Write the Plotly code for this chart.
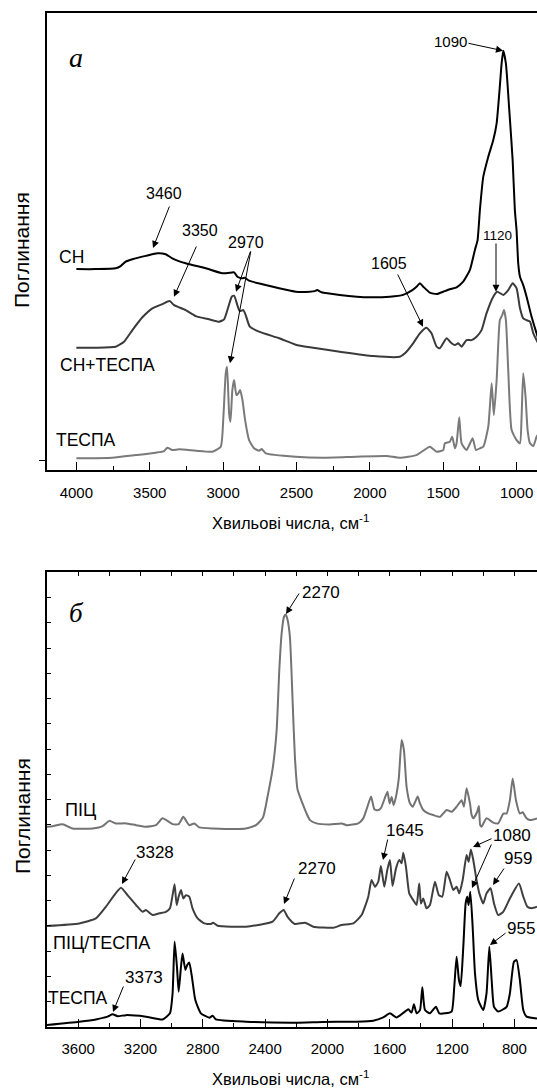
import plotly.graph_objects as go

W, H = 537, 1092

# ---------------- Panel a (top) ----------------
wn_sn = [4000, 3868, 3732, 3698, 3664, 3618, 3527, 3448, 3391, 3346, 3255, 3118, 3005, 2948, 2925, 2903, 2868, 2852, 2823, 2732, 2618, 2505, 2409, 2375, 2359, 2330, 2205, 2000, 1864, 1773, 1716, 1682, 1659, 1636, 1591, 1545, 1500, 1455, 1409, 1364, 1318, 1284, 1266, 1250, 1227, 1193, 1159, 1136, 1118, 1102, 1091, 1073, 1050, 1027, 1012, 1000, 989, 977, 955, 932, 898, 864, 855]
a_sn = [0.958, 0.958, 0.962, 0.973, 0.995, 1.007, 1.024, 1.037, 1.032, 1.012, 0.987, 0.962, 0.937, 0.940, 0.942, 0.920, 0.912, 0.915, 0.900, 0.882, 0.862, 0.845, 0.845, 0.848, 0.853, 0.842, 0.829, 0.817, 0.820, 0.829, 0.850, 0.870, 0.887, 0.870, 0.840, 0.833, 0.845, 0.857, 0.867, 0.895, 0.954, 1.054, 1.103, 1.254, 1.420, 1.520, 1.603, 1.687, 1.837, 1.987, 2.050, 1.987, 1.754, 1.504, 1.254, 1.150, 0.987, 0.920, 0.878, 0.820, 0.720, 0.637, 0.615]

wn_sn_tespa = [4000, 3868, 3732, 3675, 3618, 3550, 3482, 3414, 3364, 3334, 3300, 3255, 3186, 3096, 3027, 2993, 2964, 2941, 2925, 2903, 2887, 2862, 2846, 2818, 2755, 2618, 2505, 2409, 2205, 1977, 1796, 1761, 1705, 1659, 1614, 1580, 1545, 1523, 1477, 1443, 1420, 1398, 1375, 1341, 1307, 1273, 1239, 1205, 1159, 1132, 1091, 1057, 1027, 1000, 977, 955, 932, 909, 886, 864, 855]
a_sn_tespa = [0.565, 0.565, 0.570, 0.595, 0.653, 0.717, 0.762, 0.783, 0.798, 0.778, 0.767, 0.753, 0.723, 0.707, 0.695, 0.707, 0.770, 0.820, 0.825, 0.778, 0.748, 0.753, 0.728, 0.670, 0.645, 0.612, 0.580, 0.567, 0.545, 0.523, 0.520, 0.537, 0.587, 0.637, 0.665, 0.637, 0.570, 0.562, 0.612, 0.587, 0.578, 0.587, 0.570, 0.603, 0.603, 0.620, 0.653, 0.737, 0.820, 0.845, 0.829, 0.853, 0.887, 0.862, 0.762, 0.712, 0.703, 0.695, 0.637, 0.603, 0.590]

wn_tespa_a = [4000, 3755, 3596, 3459, 3402, 3380, 3346, 3300, 3186, 3073, 3016, 2998, 2982, 2973, 2959, 2950, 2937, 2925, 2909, 2896, 2884, 2868, 2850, 2823, 2789, 2755, 2737, 2709, 2505, 2318, 2091, 1886, 1796, 1682, 1591, 1545, 1500, 1489, 1455, 1439, 1420, 1409, 1391, 1375, 1341, 1300, 1277, 1250, 1227, 1193, 1170, 1155, 1136, 1114, 1098, 1086, 1073, 1057, 1034, 1000, 977, 966, 955, 939, 925, 909, 886, 864, 855]
a_tespa_a = [0.012, 0.015, 0.028, 0.040, 0.048, 0.065, 0.053, 0.057, 0.050, 0.045, 0.070, 0.220, 0.437, 0.470, 0.237, 0.195, 0.353, 0.403, 0.328, 0.337, 0.353, 0.303, 0.203, 0.103, 0.062, 0.050, 0.058, 0.037, 0.020, 0.015, 0.020, 0.023, 0.015, 0.028, 0.070, 0.045, 0.053, 0.087, 0.095, 0.120, 0.062, 0.087, 0.217, 0.087, 0.053, 0.112, 0.053, 0.062, 0.070, 0.170, 0.387, 0.228, 0.403, 0.703, 0.728, 0.753, 0.703, 0.453, 0.153, 0.103, 0.087, 0.220, 0.437, 0.320, 0.153, 0.087, 0.073, 0.120, 0.130]

# ---------------- Panel б (bottom) ----------------
wn_pic = [3800, 3764, 3700, 3636, 3507, 3443, 3400, 3358, 3293, 3229, 3165, 3101, 3058, 2994, 2955, 2925, 2887, 2855, 2823, 2737, 2523, 2459, 2414, 2382, 2350, 2326, 2309, 2294, 2279, 2268, 2258, 2241, 2223, 2209, 2192, 2160, 2134, 2112, 2070, 1984, 1909, 1877, 1802, 1770, 1747, 1720, 1699, 1677, 1657, 1615, 1601, 1588, 1575, 1558, 1542, 1524, 1509, 1492, 1470, 1453, 1432, 1421, 1406, 1385, 1353, 1321, 1278, 1235, 1203, 1171, 1139, 1124, 1107, 1085, 1075, 1064, 1040, 1028, 1020, 1011, 979, 936, 904, 871, 850, 829, 811, 790, 765, 747, 722, 700, 655]
a_pic = [0.793, 0.795, 0.803, 0.786, 0.786, 0.795, 0.816, 0.806, 0.806, 0.799, 0.793, 0.799, 0.826, 0.803, 0.803, 0.832, 0.799, 0.806, 0.790, 0.786, 0.786, 0.799, 0.829, 0.920, 1.030, 1.175, 1.413, 1.558, 1.624, 1.633, 1.617, 1.545, 1.281, 1.070, 0.940, 0.885, 0.845, 0.819, 0.806, 0.802, 0.806, 0.799, 0.806, 0.826, 0.865, 0.912, 0.862, 0.858, 0.866, 0.931, 0.885, 0.910, 0.878, 0.918, 0.984, 1.136, 1.096, 0.951, 0.885, 0.872, 0.898, 0.912, 0.885, 0.859, 0.846, 0.839, 0.832, 0.859, 0.852, 0.872, 0.898, 0.872, 0.945, 0.885, 0.840, 0.826, 0.850, 0.875, 0.800, 0.793, 0.826, 0.809, 0.806, 0.845, 0.845, 0.898, 0.984, 0.898, 0.845, 0.850, 0.826, 0.819, 0.826]

wn_pic_tespa = [3800, 3593, 3486, 3422, 3368, 3325, 3283, 3229, 3186, 3165, 3122, 3079, 3037, 3011, 2994, 2981, 2968, 2955, 2940, 2925, 2908, 2887, 2866, 2833, 2791, 2748, 2733, 2705, 2523, 2352, 2309, 2281, 2256, 2210, 2144, 2091, 1963, 1909, 1834, 1781, 1738, 1717, 1695, 1674, 1657, 1635, 1616, 1599, 1582, 1560, 1539, 1524, 1513, 1496, 1475, 1449, 1428, 1411, 1400, 1385, 1364, 1342, 1310, 1285, 1263, 1235, 1214, 1192, 1171, 1154, 1132, 1107, 1094, 1079, 1064, 1043, 1025, 1000, 979, 953, 931, 904, 872, 829, 771, 743, 717, 690, 655]
a_pic_tespa = [0.400, 0.410, 0.430, 0.476, 0.522, 0.551, 0.522, 0.483, 0.456, 0.463, 0.443, 0.450, 0.456, 0.470, 0.522, 0.565, 0.483, 0.516, 0.542, 0.509, 0.522, 0.516, 0.470, 0.430, 0.410, 0.408, 0.413, 0.401, 0.397, 0.417, 0.450, 0.463, 0.436, 0.408, 0.413, 0.397, 0.393, 0.404, 0.410, 0.443, 0.516, 0.582, 0.555, 0.575, 0.637, 0.555, 0.621, 0.661, 0.558, 0.628, 0.661, 0.648, 0.690, 0.634, 0.529, 0.502, 0.483, 0.568, 0.489, 0.509, 0.470, 0.483, 0.575, 0.522, 0.516, 0.615, 0.582, 0.542, 0.555, 0.529, 0.582, 0.681, 0.654, 0.703, 0.661, 0.582, 0.529, 0.489, 0.529, 0.549, 0.489, 0.443, 0.456, 0.509, 0.568, 0.516, 0.476, 0.470, 0.476]

wn_tespa_b = [3800, 3593, 3486, 3411, 3379, 3347, 3293, 3165, 3058, 3011, 2994, 2981, 2966, 2955, 2940, 2930, 2912, 2900, 2887, 2870, 2848, 2812, 2758, 2737, 2716, 2523, 2202, 2027, 1813, 1706, 1642, 1599, 1556, 1503, 1481, 1460, 1445, 1428, 1406, 1391, 1374, 1342, 1304, 1282, 1246, 1203, 1186, 1171, 1156, 1145, 1128, 1113, 1103, 1094, 1083, 1068, 1053, 1032, 1000, 979, 961, 946, 931, 904, 850, 829, 803, 786, 765, 743, 722, 655]
a_tespa_b = [0.008, 0.021, 0.030, 0.041, 0.050, 0.043, 0.047, 0.041, 0.030, 0.054, 0.133, 0.338, 0.239, 0.140, 0.239, 0.291, 0.226, 0.245, 0.255, 0.199, 0.107, 0.054, 0.037, 0.045, 0.030, 0.021, 0.017, 0.020, 0.021, 0.025, 0.038, 0.054, 0.038, 0.061, 0.070, 0.057, 0.090, 0.054, 0.067, 0.157, 0.067, 0.054, 0.080, 0.054, 0.054, 0.061, 0.160, 0.278, 0.186, 0.162, 0.318, 0.489, 0.516, 0.483, 0.535, 0.397, 0.212, 0.107, 0.067, 0.133, 0.318, 0.186, 0.080, 0.061, 0.080, 0.133, 0.258, 0.265, 0.186, 0.067, 0.041, 0.034]

# ---------------- Labels ----------------
x_title = "Хвильові числа, см<sup>-1</sup>"
y_title = "Поглинання"

FONT = "Liberation Sans, Arial, sans-serif"
SERIF = "Liberation Serif, Times New Roman, serif"

fig = go.Figure()

def line(x, y, color, xa, ya, width=2.0):
    fig.add_trace(go.Scatter(x=x, y=y, mode="lines", xaxis=xa, yaxis=ya,
                             line=dict(color=color, width=width, shape="spline", smoothing=0.5),
                             showlegend=False, hoverinfo="skip"))

line(wn_tespa_a, a_tespa_a, "#7a7a7a", "x", "y")
line(wn_sn_tespa, a_sn_tespa, "#3a3a3a", "x", "y")
line(wn_sn, a_sn, "#000000", "x", "y")

line(wn_pic, a_pic, "#737373", "x2", "y2")
line(wn_pic_tespa, a_pic_tespa, "#3f3f3f", "x2", "y2")
line(wn_tespa_b, a_tespa_b, "#000000", "x2", "y2")
# carrier for the top tick axis of panel б
fig.add_trace(go.Scatter(x=[], y=[], xaxis="x3", yaxis="y2", showlegend=False, hoverinfo="skip"))

def py2p(py):
    return 1 - py / H

def px2p(px):
    return px / W

x0 = px2p(47)
dom_a = [py2p(470), py2p(12.7)]
dom_b = [py2p(1027), py2p(572.3)]

tickfont = dict(family=FONT, size=15, color="black")
axline = dict(showline=True, linecolor="black", linewidth=1.5, showgrid=False, zeroline=False)

fig.update_layout(
    width=W, height=H, margin=dict(l=0, r=0, t=0, b=0),
    paper_bgcolor="white", plot_bgcolor="white",
    xaxis=dict(domain=[x0, 1], anchor="y", range=[4200, 861], mirror=True,
               ticks="inside", tick0=0, dtick=500, ticklen=8, tickwidth=1.3, tickcolor="black",
               minor=dict(ticks="inside", dtick=250, ticklen=4, tickwidth=1.3, tickcolor="black"),
               tickfont=tickfont, ticklabelstandoff=8, **axline),
    yaxis=dict(domain=dom_a, anchor="x", range=[-0.0465, 2.24], ticks="outside",
               tickvals=[0], ticklen=6, tickwidth=1.3, tickcolor="black",
               showticklabels=False, **axline),
    xaxis2=dict(domain=[x0, 1], anchor="y2", range=[3800, 655],
                ticks="inside", tick0=0, dtick=400, ticklen=8, tickwidth=1.3, tickcolor="black",
                minor=dict(ticks="inside", dtick=200, ticklen=4, tickwidth=1.3, tickcolor="black"),
                tickfont=tickfont, ticklabelstandoff=7, **axline),
    xaxis3=dict(overlaying="x2", anchor="y2", side="top", range=[3800, 655],
                ticks="inside", tick0=0, dtick=200, ticklen=4, tickwidth=1.3, tickcolor="black",
                showticklabels=False, **axline),
    yaxis2=dict(domain=dom_b, anchor="x2", range=[0, 1.8], ticks="inside",
                tick0=0, dtick=0.1, ticklen=4, tickwidth=1.3, tickcolor="black",
                showticklabels=False, **axline),
)

ann = []

def text(px, py, s, size=16, family=FONT, italic=False, angle=0):
    t = f"<i>{s}</i>" if italic else s
    ann.append(dict(x=px2p(px), y=py2p(py), xref="paper", yref="paper", text=t,
                    xanchor="center", yanchor="middle",
                    showarrow=False, textangle=angle,
                    font=dict(family=family, size=size, color="black")))

def arrow(sx, sy, tx, ty):
    ann.append(dict(x=px2p(tx), y=py2p(ty), xref="paper", yref="paper", text="",
                    xanchor="center", yanchor="middle",
                    showarrow=True, ax=sx - tx, ay=sy - ty, arrowhead=2, arrowsize=1.4,
                    arrowwidth=1, arrowcolor="black", standoff=0, startstandoff=0))

# panel a texts
text(76, 57, "a", size=28, family=SERIF, italic=True)
text(450, 42, "1090", 15)
text(164, 193, "3460", 16)
text(200, 230, "3350", 16)
text(246, 242, "2970", 16)
text(389, 263, "1605", 16)
text(497, 235, "1120", 13.5)
text(71, 257, "СН", 17.5)
text(107, 365, "СН+ТЕСПА", 17.5)
text(86, 440, "ТЕСПА", 17.5)
arrow(467, 43, 503, 50.7)
arrow(170, 205, 153, 248)
arrow(197, 245, 174, 296.7)
arrow(251, 250, 236, 291.7)
arrow(251, 250, 230, 363.3)
arrow(397, 273, 423, 326.7)
arrow(496, 242, 496, 291.7)

# panel б texts
text(76, 613, "б", size=27, family=SERIF, italic=True)
text(321, 592, "2270", 17)
text(80, 810, "ПІЦ", 18)
text(155, 852, "3328", 17)
text(317, 868, "2270", 17)
text(405, 830, "1645", 17)
text(512, 835, "1080", 17)
text(518, 858, "959", 17)
text(521, 928, "955", 17)
text(101, 943, "ПІЦ/ТЕСПА", 18)
text(144, 977, "3373", 17)
text(78, 998, "ТЕСПА", 17.5)
arrow(300, 592, 286, 614)
arrow(136, 858, 122, 884)
arrow(295, 877, 284, 904)
arrow(388, 838, 383, 860)
arrow(493, 838, 473, 847)
arrow(492, 843, 472, 888)
arrow(505, 867, 493, 885)
arrow(507, 932, 490, 945)
arrow(124, 985, 113, 1012)

# axis titles
text(22, 250, y_title, 21, angle=-90)
text(22, 816, y_title, 21, angle=-90)
text(290, 522, x_title, 16.5)
text(290, 1078, x_title, 16.5)

fig.update_layout(annotations=ann)
fig.write_html("out.html", config={"displayModeBar": False},
               post_script="document.body.style.margin='0px';")
